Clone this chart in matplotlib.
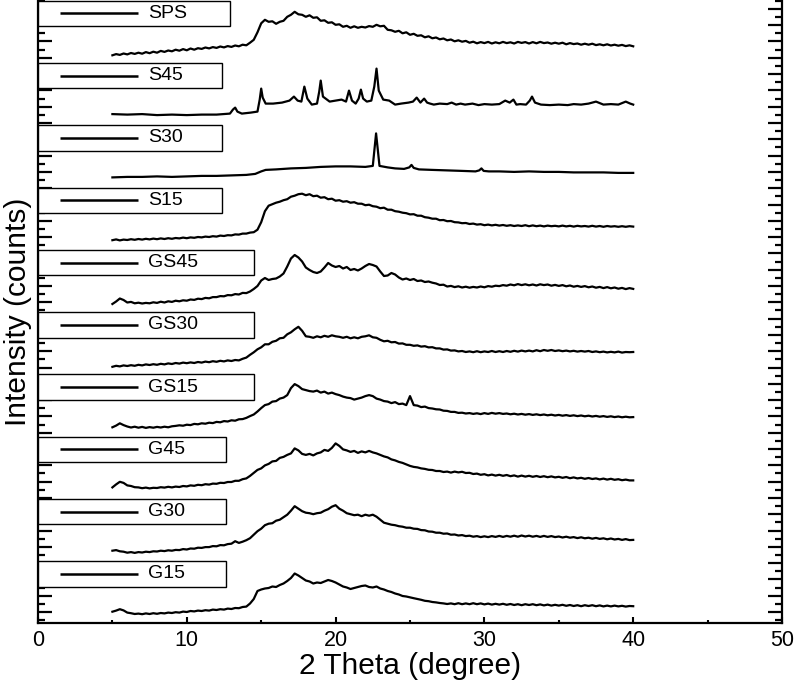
import numpy as np
import matplotlib
matplotlib.use("Agg")
import matplotlib.pyplot as plt
from matplotlib.patches import Rectangle
from matplotlib.ticker import MultipleLocator
import matplotlib.transforms as mtransforms

plt.rcParams['font.family'] = ['Liberation Sans', 'DejaVu Sans']

# sample names, top to bottom
names = ['SPS', 'S45', 'S30', 'S15', 'GS45', 'GS30', 'GS15', 'G45', 'G30', 'G15']

# 2-theta grid (0.25 deg steps, 5..40) for the amorphous patterns
two_theta = np.arange(5.0, 40.001, 0.25)

sps = [7, 8.2, 7.4, 8.8, 7.9, 9.3, 8.4, 9.6,
       8.6, 10.2, 9.1, 10.6, 9.6, 11.4, 10.4, 11.8,
       11, 12.6, 11.6, 13.2, 12, 13.8, 12.6, 14.1,
       13.4, 14.8, 13.9, 15.2, 14.4, 15.8, 14.9, 16.2,
       15.4, 16.8, 16, 17.6, 17, 19.6, 22.5, 30,
       39, 42.5, 40.5, 41, 38.5, 40.5, 41.5, 45.5,
       47.5, 50.5, 48, 47.5, 45.5, 47, 44.5, 45,
       41.5, 42, 39.5, 40, 37.5, 38, 35.5, 36.5,
       34.5, 36, 34.5, 35.5, 34.8, 36.2, 35.5, 37.5,
       36, 36.5, 32.5, 32, 30.5, 31.5, 29, 30,
       27.5, 28.5, 26.5, 27, 25, 26, 24, 24.8,
       23, 23.8, 22, 22.8, 21, 22, 20.6, 21.4,
       19.6, 20.6, 19, 20.2, 19.2, 20.4, 18.8, 20,
       19, 20.4, 19.2, 20, 18.8, 20.4, 19.4, 20.2,
       18.8, 20.2, 19, 20.4, 19.2, 19.8, 18.6, 19.6,
       18.6, 19.6, 18, 19.2, 18.2, 18.8, 17.6, 18.6,
       17.6, 18.6, 17.2, 18, 17, 18, 16.8, 17.6,
       16.6, 17.4, 16.2, 17, 16]

s15 = [9, 9.8, 8.8, 9.6, 9.2, 10, 9.4, 10.2,
       9.6, 10.4, 9.8, 10.6, 10, 10.8, 10.2, 11,
       10.4, 11.2, 10.8, 11.6, 11, 11.8, 11.4, 12.2,
       11.8, 12.6, 12.2, 13, 12.6, 13.6, 13.2, 14,
       13.8, 14.8, 14.6, 15.6, 15.6, 16.6, 17, 19.5,
       27, 38, 43.5, 45, 46.5, 47.5, 49, 50,
       52.5, 53.5, 55, 55.5, 54, 55, 53, 53.5,
       51.5, 52, 50, 50.5, 48.5, 49, 47.5, 48,
       46.5, 47, 45.5, 45.5, 44, 44.5, 43, 42.5,
       41, 41.5, 39.5, 39.5, 38, 37.5, 36.5, 36,
       34.8, 35, 33.5, 33.5, 32, 31.5, 30.5, 30.5,
       29, 29.2, 28, 28.2, 27, 26.8, 26, 26.2,
       25.2, 25.6, 24.6, 25, 24, 24.6, 23.8, 24.4,
       23.6, 24.2, 23.4, 24, 23.2, 23.8, 23.2, 24,
       23, 23.8, 23, 23.6, 22.8, 23.6, 23, 23.4,
       22.8, 23.6, 22.8, 23.4, 22.6, 23.4, 22.8, 23.2,
       22.6, 23.4, 22.6, 23.2, 22.4, 23.2, 22.6, 23,
       22.4, 23, 22.4, 23, 22.6]

gs45 = [7.5, 10, 13, 11.5, 9, 9.6, 8.2, 8.8,
        8, 8.6, 8.2, 9.2, 8.6, 9.8, 9, 10.2,
        9.6, 10.8, 10.2, 11.2, 10.8, 12, 11.6, 12.8,
        12.4, 13.6, 13.2, 14.4, 14.4, 15.4, 15.2, 16.4,
        16.2, 17.4, 17, 18.6, 18.4, 20, 22.5, 25.5,
        31, 33.5, 31.5, 32.5, 33, 35, 38, 45,
        53, 56.5, 54, 50, 44, 41.5, 39.5, 38.5,
        40, 44, 48.5, 46, 44.5, 45.5, 43, 44.5,
        41.5, 42.5, 41, 43, 45.5, 47.5, 46.5, 45,
        40, 35.5, 36, 38.5, 37, 34, 32, 33,
        31.5, 32.5, 30.5, 31, 29.5, 30, 28.8, 28,
        26.5, 26.8, 25, 25.6, 24.4, 25.2, 24, 24.8,
        23.8, 24.6, 24, 25, 24.2, 25.4, 24.8, 25.8,
        25.4, 26.4, 25.8, 27, 26.2, 27.4, 26.4, 27.2,
        26.2, 27, 26, 27.2, 26.4, 27, 25.8, 26.6,
        25.6, 26.4, 25.2, 26, 24.8, 25.6, 24.6, 25.4,
        24.2, 25, 23.8, 24.6, 23.4, 24.4, 23.2, 24,
        22.8, 23.6, 22.4, 23.4, 22.6]

gs30 = [7, 8, 7.4, 8.4, 7.8, 8.6, 8, 9,
        8.4, 9.4, 8.8, 9.6, 9, 10, 9.4, 10.4,
        9.8, 10.8, 10.2, 11.2, 10.6, 11.4, 10.8, 11.8,
        11.2, 12.2, 11.6, 12.6, 12, 13, 12.4, 13.4,
        12.8, 13.8, 13.4, 15, 16.2, 19, 21.5, 24.5,
        26.5, 29.5, 29.5, 32, 33, 35.5, 36, 39.5,
        41.5, 44.5, 47, 43, 37.5, 37, 36, 37.5,
        36.5, 38, 37, 38.5, 37.5, 37, 36, 37,
        35.5, 36.5, 35.5, 37, 37.5, 38.5, 36.5, 36,
        34, 32.5, 33, 31.5, 31.8, 30.2, 30.4, 29,
        29, 28, 28.4, 27.2, 27.6, 26.4, 26.6, 25.4,
        25.4, 24.2, 24.4, 23.2, 23.4, 22.4, 22.8, 21.8,
        22.4, 21.6, 22.6, 21.6, 22.4, 21.8, 22.8, 21.8,
        22.6, 21.8, 22.8, 22, 23, 22.2, 23.2, 22.4,
        23.2, 22.4, 23.6, 22.6, 23.8, 23, 23.8, 22.8,
        23.4, 22.6, 23.2, 22.4, 23, 22.2, 22.8, 22.2,
        22.8, 21.8, 22.4, 21.6, 22.2, 21.4, 22, 21.4,
        22.2, 21.2, 21.8, 21.6, 21.8]

gs15 = [8.8, 10.5, 12.8, 11, 9.6, 8.6, 9.4, 8.4,
        9.2, 8.2, 9, 8.4, 9.2, 8.6, 9.4, 8.8,
        9.8, 10.2, 10.8, 10.4, 11.4, 11, 12.2, 11.8,
        12.8, 12.4, 13.4, 13, 14.2, 13.8, 15, 14.6,
        15.8, 15.4, 16.8, 17, 18.2, 20, 21.6, 24.6,
        28, 31, 32, 34.5, 35, 37.5, 38.5, 41,
        48, 52, 50, 47, 46, 45, 44.5, 45.5,
        43.5, 44.5, 42.5, 43.5, 42, 41, 39.5, 38.5,
        38, 36.5, 37.5, 38.5, 40, 41, 40, 37.5,
        36.5, 35, 34.5, 33, 34, 32, 32.5, 31,
        40, 31, 30.5, 29, 29.5, 28, 27.6, 26.8,
        26.6, 25.4, 25.2, 24.2, 24.2, 23.2, 23.4, 22.6,
        23, 22.2, 22.8, 22, 23, 22.2, 23.2, 22.4,
        23, 22.2, 22.6, 21.8, 22.4, 21.6, 22.2, 21.4,
        22, 21.2, 21.8, 21, 21.6, 20.8, 21.4, 20.6,
        21.2, 20.4, 21, 20.2, 20.8, 20, 20.6, 19.8,
        20.4, 19.6, 20.2, 19.4, 20, 19.2, 19.8, 19,
        19.6, 18.8, 19.4, 18.8, 19]

g45 = [11, 14, 16.6, 15.5, 13, 12.4, 11.2, 11,
       10.2, 10.8, 10, 10.6, 10.4, 11.2, 10.8, 11.6,
       11, 11.8, 11.4, 12.4, 12, 13, 12.6, 13.6,
       13.2, 14.2, 13.8, 14.8, 14.6, 15.6, 15.4, 16.4,
       16.4, 17.6, 17.6, 19.2, 20, 22.5, 25.5, 28.5,
       30, 33, 34.5, 37, 37.5, 40.5, 41.5, 43.5,
       45, 50, 48, 44.5, 43.5, 44.5, 43, 45,
       46, 48.5, 47.5, 50.5, 55, 52.5, 49, 48,
       46.5, 47.5, 45.5, 47, 46, 47.5, 46, 45,
       43.5, 42, 41, 39, 38, 36.5, 35.5, 34,
       32.5, 31.5, 31, 30, 29.5, 28.6, 28.4, 27.4,
       27.4, 26.4, 26.8, 25.8, 26.8, 26, 26.6, 25.4,
       25.6, 24.4, 24.8, 23.6, 24.2, 23, 23.8, 22.8,
       23.6, 22.6, 23.4, 22.2, 23, 21.8, 22.8, 21.8,
       22.6, 21.6, 22.4, 21.4, 22.2, 21.2, 22, 21,
       21.6, 20.6, 21.4, 20.2, 21, 20, 20.6, 19.6,
       20.4, 19.4, 20, 19, 19.8, 18.8, 19.6, 18.6,
       19.2, 18.2, 18.8, 18, 18]

g30 = [10, 10.6, 9.4, 9, 8, 8.6, 7.8, 8.6,
       8.2, 9, 8.6, 9.4, 9.2, 10, 9.6, 10.4,
       10, 10.8, 10.6, 11.6, 11.2, 12.2, 12, 13,
       12.8, 13.6, 13.6, 14.6, 14.4, 15.6, 15.4, 16.6,
       17, 19.5, 17.8, 19, 20.5, 22.5, 26, 29.5,
       32, 35.5, 37, 37.5, 40, 41, 43.5, 46,
       50, 54.5, 52, 49.5, 48, 47.5, 46.5, 47.5,
       48, 50, 51.5, 54, 55.5, 52, 50, 47.5,
       46.5, 45.5, 46, 44.5, 46, 45, 46, 44,
       41, 38, 37, 36, 35.5, 34.5, 34, 33,
       33, 32, 31.8, 30.6, 30.4, 29.2, 29, 28,
       28, 27, 27.2, 26, 26.2, 25.2, 25.6, 24.6,
       25, 24, 24.6, 23.6, 24.4, 23.6, 24.6, 23.8,
       24.8, 23.8, 24.8, 24, 25, 24, 25.2, 24.2,
       25, 24, 24.8, 23.8, 24.8, 23.8, 24.6, 23.6,
       24.2, 23.2, 24, 23, 23.6, 22.6, 23.4, 22.4,
       23, 22, 22.8, 21.8, 22.4, 21.4, 22.2, 21.2,
       21.8, 20.8, 21.6, 20.6, 20.8]

g15 = [11.3, 12.4, 13.8, 12.6, 10.4, 9.8, 9, 9.4,
       8.8, 9.6, 9, 9.8, 9.2, 10, 9.6, 10.4,
       10, 10.8, 10.4, 11.4, 11, 12, 11.6, 12.4,
       12, 12.8, 12.4, 13.4, 13, 13.8, 13.4, 14.4,
       14, 15, 14.8, 16, 16.4, 19.5, 24, 32,
       33.5, 34.5, 35, 36.5, 36, 38, 39.5, 42,
       45, 49.5, 47.5, 45, 42.5, 41.5, 39.5, 40.5,
       40, 41.5, 43, 42, 40.5, 38.5, 36.5, 35.5,
       34, 35, 36, 37, 37.5, 36, 35.5, 36.5,
       34.5, 33.5, 32, 31, 29.5, 28.5, 27, 26.5,
       25.6, 24.8, 24, 23.2, 22.2, 21.8, 21, 20.6,
       20, 19.6, 19, 19.6, 18.8, 19.8, 18.8, 19.6,
       18.8, 19.8, 18.8, 19.6, 18.6, 19.4, 18.4, 19.2,
       18.4, 19.2, 18.2, 19, 18, 18.8, 17.8, 18.8,
       18, 18.8, 17.8, 18.6, 17.6, 18.4, 17.4, 18.2,
       17.4, 18.2, 17.2, 18, 17, 17.8, 16.8, 17.8,
       17, 17.8, 16.8, 17.6, 16.6, 17.4, 16.6, 17.4,
       16.6, 17.2, 16.4, 17, 16.8]

# crystalline samples, own 2-theta points
s45_x = [5, 6, 7, 8, 9, 10, 11, 12, 12.9, 13.1,
         13.25, 13.4, 13.7, 14.3, 14.75, 14.9, 15.0, 15.1, 15.3, 15.8,
         16.4, 16.9, 17.2, 17.45, 17.7, 17.9, 18.1, 18.4, 18.75, 18.9,
         19.0, 19.15, 19.6, 20.0, 20.4, 20.7, 20.9, 21.1, 21.35, 21.55,
         21.7, 21.85, 22.1, 22.4, 22.6, 22.75, 22.9, 23.2, 23.6, 24.0,
         24.4, 24.9, 25.2, 25.45, 25.7, 25.95, 26.15, 26.35, 26.6, 27.0,
         27.5, 27.8, 28.1, 28.4, 28.7, 29.2, 29.6, 30.0, 30.5, 31.0,
         31.4, 31.7, 31.95, 32.15, 32.4, 32.8, 33.05, 33.2, 33.4, 33.8,
         34.4, 35.0, 35.6, 36.0, 36.5, 37.0, 37.5, 38.0, 38.5, 39.0,
         39.5, 39.8, 40.0]
s45_y = [10.5, 10, 10.5, 9.5, 10, 9.5, 10, 10, 11, 15,
         17, 13, 11, 12, 13, 25, 36, 27, 21, 21,
         22, 24, 28, 24, 23, 38, 26, 20, 21, 33,
         44, 28, 23, 24, 25, 23, 34, 24, 21, 26,
         35, 26, 23, 24, 38, 56, 34, 25, 24, 20,
         21, 22, 23, 27, 22, 26, 22, 21, 20, 21,
         20.5, 22, 20, 21, 20, 21, 19.5, 20.5, 20, 20.5,
         24, 22, 25, 20, 20.5, 20, 24, 28, 22, 20,
         19.5, 20, 19.5, 20.5, 20, 21, 23, 20, 20.5, 20,
         23, 21, 20]

s30_x = [5, 6, 7, 8, 9, 10, 11, 12, 13, 14,
         14.6, 15.0, 15.3, 16, 17, 18, 19, 20, 21, 22,
         22.5, 22.72, 22.95, 23.5, 24, 24.6, 24.95, 25.1, 25.25, 25.6,
         26.5, 27.5, 28.5, 29.4, 29.65, 29.8, 29.95, 30.3, 31, 32,
         33, 34, 35, 36, 37, 38, 39, 40]
s30_y = [9.5, 10, 10, 10.5, 10, 10.5, 11, 11, 11.5, 12,
         13, 15.5, 17, 17.5, 18.5, 19, 20, 20.5, 20.5, 20,
         21, 53.5, 21, 19.5, 18.5, 18, 19.5, 22, 19, 17.5,
         17, 16.5, 16, 15.5, 16.5, 18.5, 16, 15.5, 15.5, 15,
         15.5, 15, 15, 14.5, 14.5, 14.5, 14, 14]

series_x = [two_theta, s45_x, s30_x, two_theta, two_theta, two_theta,
            two_theta, two_theta, two_theta, two_theta]
series_y = [sps, s45_y, s30_y, s15, gs45, gs30, gs15, g45, g30, g15]

# layout
panel_h = 62.3
box_right_px = [230, 222, 222, 222, 254, 254, 254, 226, 226, 226]

fig = plt.figure(figsize=(7.99, 6.81), dpi=100)
ax = fig.add_axes([38 / 799, 58 / 681, 744 / 799, 623 / 681])

n = len(names)
trans = mtransforms.blended_transform_factory(ax.transAxes, ax.transData)
for i, name in enumerate(names):
    off = (n - 1 - i) * panel_h
    ax.plot(series_x[i], np.array(series_y[i]) + off, color='black', lw=1.6,
            solid_joinstyle='round', zorder=3)
    top = off + panel_h
    w = (box_right_px[i] - 38) / 744
    ax.add_patch(Rectangle((0, top - 0.6 - 25.4), w, 25.4, transform=trans,
                           facecolor='white', edgecolor='black', lw=1.0,
                           zorder=5, clip_on=False))
    yc = top - 0.6 - 12.7
    ax.plot([22 / 744, 100 / 744], [yc, yc], transform=trans, color='black',
            lw=1.8, zorder=6, solid_capstyle='butt')
    ax.text(110 / 744, yc, name, transform=trans, fontsize=14, va='center',
            ha='left', zorder=6)

ax.set_xlim(0, 50)
ax.set_ylim(0, n * panel_h)
ax.xaxis.set_major_locator(MultipleLocator(10))
ax.xaxis.set_minor_locator(MultipleLocator(5))
ax.yaxis.set_major_locator(MultipleLocator(16.3, offset=11))
ax.yaxis.set_minor_locator(MultipleLocator(8.15, offset=2.85))
ax.tick_params(axis='x', which='major', direction='in', length=4.5, width=1.5,
               labelsize=15.5, top=False, pad=5)
ax.tick_params(axis='x', which='minor', direction='in', length=2.5, width=1.5,
               top=False)
ax.tick_params(axis='y', which='major', direction='in', length=10, width=1.6,
               left=True, right=True, labelleft=False)
ax.tick_params(axis='y', which='minor', direction='in', length=5, width=1.6,
               left=True, right=True)
ax.spines['top'].set_visible(False)
for s in ['left', 'right', 'bottom']:
    ax.spines[s].set_linewidth(1.6)

ax.set_xlabel('2 Theta (degree)', fontsize=21.5, labelpad=1)
ax.set_ylabel('Intensity (counts)', fontsize=21.5, labelpad=1)

fig.savefig('out.png', dpi=100)
